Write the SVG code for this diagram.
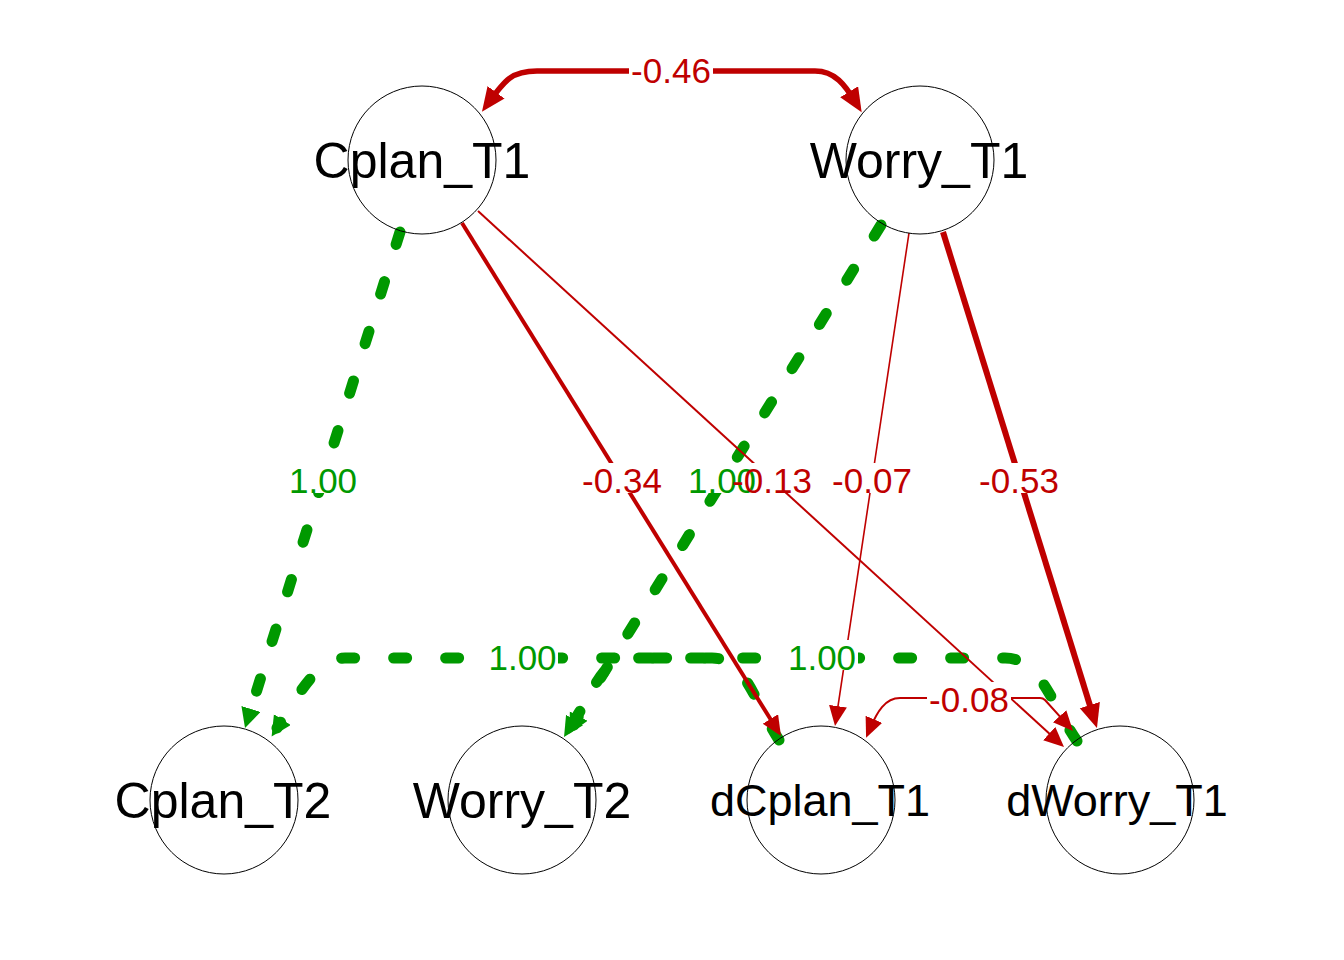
<svg xmlns="http://www.w3.org/2000/svg" width="1344" height="960" viewBox="0 0 1344 960">
<style>
.node circle{fill:none;stroke:#000;stroke-width:1}
.node text{font-family:"Liberation Sans",Arial,sans-serif;fill:#000;text-anchor:middle}
.big{font-size:50px}
.small{font-size:45px}
.e{fill:none}
.neg{stroke:#BF0000}
.pos{stroke:#009900;stroke-width:11;stroke-linecap:round;stroke-dasharray:13 39}
.lbl{font-family:"Liberation Sans",Arial,sans-serif;font-size:35px;text-anchor:middle}
.lr{fill:#BF0000}
.lg{fill:#009900}
.bg{fill:#fff}
</style>
<defs>
<marker id="rs" markerUnits="userSpaceOnUse" markerWidth="22" markerHeight="20" refX="10" refY="9" orient="auto-start-reverse"><path d="M0,0 L20,9 L0,18 z" fill="#BF0000"/></marker>
<marker id="rb" markerUnits="userSpaceOnUse" markerWidth="26" markerHeight="24" refX="12" refY="10.5" orient="auto-start-reverse"><path d="M0,0 L24,10.5 L0,21 z" fill="#BF0000"/></marker>
<marker id="g" markerUnits="userSpaceOnUse" markerWidth="22" markerHeight="22" refX="10" refY="10" orient="auto-start-reverse"><path d="M0,0 L20,10 L0,20 z" fill="#009900"/></marker>
</defs>
<g id="connectors">
<path class="e pos" d="M400,232 L248,718.5" marker-end="url(#g)"/>
<path class="e pos" d="M881,225 L569.3,728.5" marker-end="url(#g)"/>
<path class="e pos" d="M779,740 C755,703 745,658 712,658 L345,658 C318,658 298,695 277,728" marker-end="url(#g)"/>
<path class="e pos" d="M1077,741 C1052,705 1040,658 1005,658 L630,658 C603,658 590,695 574,725" marker-end="url(#g)"/>
<path class="e neg" stroke-width="4" d="M462,223 L775.7,727.5" marker-end="url(#rs)"/>
<path class="e neg" stroke-width="2" d="M478,211 L1056.6,740.3" marker-end="url(#rs)"/>
<path class="e neg" stroke-width="1.6" d="M909,233 L836.5,716.1" marker-end="url(#rs)"/>
<path class="e neg" stroke-width="6" d="M943,232 L1093.4,716.5" marker-end="url(#rb)"/>
<path class="e neg" stroke-width="5.5" d="M489,102 C505,80 512,71 537,71 L815,71 C835,71 845,85 855.4,102" marker-start="url(#rb)" marker-end="url(#rb)"/>
<path class="e neg" stroke-width="2" d="M1066.3,723.6 L1045,700 Q1043,698 1040,698 L900,698 C885,698 877,712 870,728.5" marker-start="url(#rs)" marker-end="url(#rs)"/>
<g id="edge-label-bgs">
<rect class="bg" x="629" y="55" width="84" height="30"/>
<rect class="bg" x="287" y="463" width="72" height="30"/>
<rect class="bg" x="580" y="463" width="84" height="30"/>
<rect class="bg" x="686" y="463" width="72" height="30"/>
<rect class="bg" x="730" y="463" width="84" height="30"/>
<rect class="bg" x="830" y="463" width="84" height="30"/>
<rect class="bg" x="977" y="463" width="84" height="30"/>
<rect class="bg" x="487" y="640" width="71" height="30"/>
<rect class="bg" x="786" y="640" width="72" height="30"/>
<rect class="bg" x="927" y="682" width="84" height="30"/>
</g>
<g id="edge-labels">
<text class="lbl lr" x="671" y="83">-0.46</text>
<text class="lbl lg" x="323" y="493">1.00</text>
<text class="lbl lr" x="622" y="493">-0.34</text>
<text class="lbl lg" x="722" y="493">1.00</text>
<text class="lbl lr" x="772" y="493">-0.13</text>
<text class="lbl lr" x="872" y="493">-0.07</text>
<text class="lbl lr" x="1019" y="493">-0.53</text>
<text class="lbl lg" x="522.5" y="670">1.00</text>
<text class="lbl lg" x="822" y="670">1.00</text>
<text class="lbl lr" x="969" y="712">-0.08</text>
</g>
</g>
<g id="Cplan_T1" class="node"><circle cx="422" cy="160" r="74"/><text class="big" x="422" y="178">Cplan_T1</text></g>
<g id="Worry_T1" class="node"><circle cx="920" cy="160" r="74"/><text class="big" x="919" y="178">Worry_T1</text></g>
<g id="Cplan_T2" class="node"><circle cx="224" cy="800" r="74"/><text class="big" x="223" y="818">Cplan_T2</text></g>
<g id="Worry_T2" class="node"><circle cx="522" cy="800" r="74"/><text class="big" x="522" y="818">Worry_T2</text></g>
<g id="dCplan_T1" class="node"><circle cx="821" cy="800" r="74"/><text class="small" x="820" y="816">dCplan_T1</text></g>
<g id="dWorry_T1" class="node"><circle cx="1120" cy="800" r="74"/><text class="small" x="1117" y="816">dWorry_T1</text></g>
</svg>
